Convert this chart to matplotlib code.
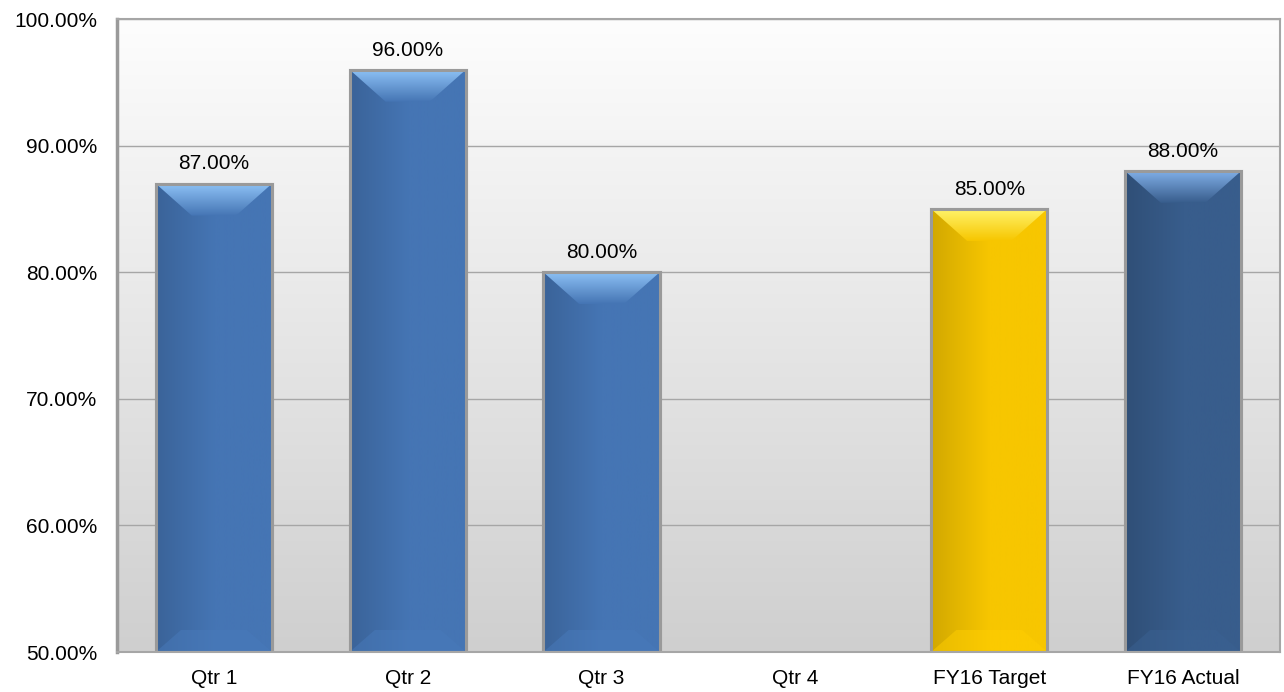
import matplotlib.pyplot as plt
import matplotlib.colors as mcolors
from matplotlib.patches import Polygon
import numpy as np

plt.rcParams['font.family'] = ['Liberation Sans', 'DejaVu Sans']

categorias = ['Qtr 1', 'Qtr 2', 'Qtr 3', 'Qtr 4', 'FY16 Target', 'FY16 Actual']
valores = [87.0, 96.0, 80.0, np.nan, 85.0, 88.0]
cores = ['#4575b4', '#4575b4', '#4575b4', '#4575b4', '#f7c600', '#385d8c']
topo_claro = ['#8cc0f4', '#8cc0f4', '#8cc0f4', '#8cc0f4', '#fff36a', '#80aee6']

fig = plt.figure(figsize=(12.84, 6.92), dpi=100)
ax = fig.add_axes([0.0911, 0.0578, 0.9058, 0.9147])

y_min, y_max = 50, 100
x = np.arange(len(categorias))
ax.set_xlim(-0.5, len(categorias) - 0.5)
ax.set_ylim(y_min, y_max)

# fundo em degradê (branco em cima, cinza embaixo)
grad = np.linspace(0, 1, 256).reshape(-1, 1)
fundo = mcolors.LinearSegmentedColormap.from_list('fundo', ['#cfcfcf', '#fdfdfd'])
ax.imshow(grad, cmap=fundo, aspect='auto', origin='lower',
          extent=(-0.5, len(categorias) - 0.5, y_min, y_max), zorder=0)

ax.set_yticks(np.arange(50, 101, 10))
ax.set_yticklabels(['%.2f%%' % v for v in np.arange(50, 101, 10)])
ax.grid(axis='y', color='#a6a6a6', linewidth=1.0, zorder=1)
ax.set_axisbelow(True)

largura = 0.6
barras = ax.bar(x, valores, width=largura, bottom=0, color=cores,
                edgecolor='#9a9a9a', linewidth=2.2, zorder=2)

# tamanho dos chanfros em unidades de dados
px_x = (len(categorias)) / (0.9058 * 1284)
px_y = (y_max - y_min) / (0.9147 * 692)
chanfro_x = 36 * px_x
chanfro_top = 32 * px_y
chanfro_bot = 22 * px_y

for xi, v, cor, clara in zip(x, valores, cores, topo_claro):
    if np.isnan(v):
        continue
    x0, x1 = xi - largura / 2, xi + largura / 2
    base = mcolors.to_rgb(cor)
    escura = tuple(c * 0.85 for c in base)
    # degradê horizontal no corpo da barra
    cm = mcolors.LinearSegmentedColormap.from_list('corpo', [escura, base, base])
    im = ax.imshow(np.linspace(0, 1, 128).reshape(1, -1), cmap=cm, aspect='auto',
                   extent=(x0, x1, y_min, v), zorder=2.1)
    im.set_clip_path(barras[int(xi)])
    # chanfro superior
    topo = Polygon([(x0, v), (x1, v), (x1 - chanfro_x, v - chanfro_top),
                    (x0 + chanfro_x, v - chanfro_top)], closed=True,
                   facecolor='none', edgecolor='none', zorder=2.2)
    ax.add_patch(topo)
    cm2 = mcolors.LinearSegmentedColormap.from_list('topo', [base, clara])
    im2 = ax.imshow(np.linspace(0, 1, 64).reshape(-1, 1), cmap=cm2, aspect='auto',
                    origin='lower', extent=(x0, x1, v - chanfro_top, v), zorder=2.2)
    im2.set_clip_path(topo)
    # chanfro inferior, bem sutil
    fundo_b = Polygon([(x0, y_min), (x1, y_min), (x1 - chanfro_x * 0.7, y_min + chanfro_bot),
                       (x0 + chanfro_x * 0.7, y_min + chanfro_bot)], closed=True,
                      facecolor=tuple(min(1, c * 1.04) for c in base), edgecolor='none',
                      alpha=0.5, zorder=2.2)
    ax.add_patch(fundo_b)
    # contorno por cima
    ax.add_patch(plt.Rectangle((x0, y_min), largura, v - y_min, facecolor='none',
                               edgecolor='#9a9a9a', linewidth=2.2, zorder=2.3))
    ax.text(xi, v + 0.8, '%.2f%%' % v, ha='center', va='bottom', fontsize=15,
            color='black', zorder=3)

ax.set_xticks(x)
ax.set_xticklabels(categorias)
ax.tick_params(axis='both', length=0, labelsize=15, colors='black')
ax.tick_params(axis='x', pad=12)
ax.tick_params(axis='y', pad=14)

for lado in ['top', 'right', 'bottom']:
    ax.spines[lado].set_color('#a6a6a6')
    ax.spines[lado].set_linewidth(1.5)
ax.spines['left'].set_color('#9a9a9a')
ax.spines['left'].set_linewidth(2.5)

fig.savefig('out.png', dpi=100, facecolor='white')
plt.close()
